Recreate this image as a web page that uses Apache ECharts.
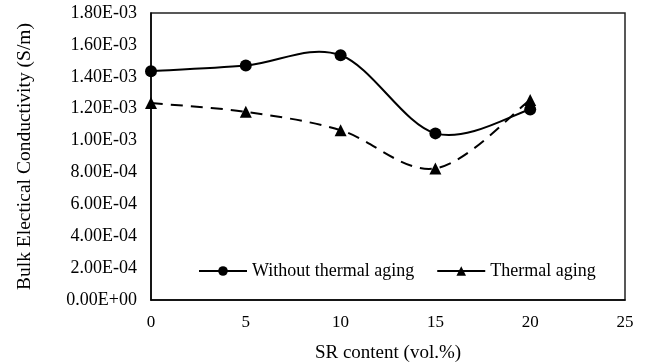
<!DOCTYPE html>
<html>
<head>
<meta charset="utf-8">
<script src="https://cdn.jsdelivr.net/npm/echarts@6/dist/echarts.min.js"></script>
<style>
  html, body { margin: 0; padding: 0; background: #fff; }
  #chart { width: 646px; height: 362px; }
</style>
</head>
<body>
<div id="chart"></div>
<script>
// SR content (vol.%)
const srContent = [0, 5, 10, 15, 20];
// Bulk electrical conductivity (S/m)
const withoutAging = [1.435e-3, 1.47e-3, 1.535e-3, 1.045e-3, 1.195e-3];
const thermalAging = [1.235e-3, 1.18e-3, 1.065e-3, 8.25e-4, 1.255e-3];
const seriesNames = ['Without thermal aging', 'Thermal aging'];

const FONT = '"Liberation Serif", "Times New Roman", serif';

// Scientific label in spreadsheet style, e.g. 1.80E-03
function sci(v) {
  const s = Number(v).toExponential(2);
  const [m, e] = s.split('e');
  const n = parseInt(e, 10);
  const sign = n < 0 ? '-' : '+';
  const d = String(Math.abs(n)).padStart(2, '0');
  return m + 'E' + sign + d;
}

const pairs = (xs, ys) => xs.map((x, i) => [x, ys[i]]);

// Catmull-Rom style smoothed path through pixel points
function smoothPath(pts) {
  let d = 'M' + pts[0][0] + ' ' + pts[0][1];
  for (let i = 0; i < pts.length - 1; i++) {
    const p0 = pts[i - 1] || pts[i];
    const p1 = pts[i];
    const p2 = pts[i + 1];
    const p3 = pts[i + 2] || pts[i + 1];
    const c1x = p1[0] + (p2[0] - p0[0]) / 6;
    const c1y = p1[1] + (p2[1] - p0[1]) / 6;
    const c2x = p2[0] - (p3[0] - p1[0]) / 6;
    const c2y = p2[1] - (p3[1] - p1[1]) / 6;
    d += ' C' + c1x + ' ' + c1y + ' ' + c2x + ' ' + c2y + ' ' + p2[0] + ' ' + p2[1];
  }
  return d;
}

function curveSeries(xs, ys, dash) {
  return {
    type: 'custom',
    silent: true,
    z: 1,
    data: pairs(xs, ys),
    encode: { x: 0, y: 1 },
    renderItem: function (params, api) {
      if (params.dataIndex !== 0) return null;
      const pts = xs.map((x, i) => api.coord([x, ys[i]]));
      return {
        type: 'path',
        shape: { pathData: smoothPath(pts) },
        style: { fill: null, stroke: '#000', lineWidth: 2, lineDash: dash }
      };
    }
  };
}

const legendLine = { width: 2, color: '#000', type: 'solid', opacity: 1 };

const chart = echarts.init(document.getElementById('chart'), null, { renderer: 'canvas' });
chart.setOption({
  animation: false,
  backgroundColor: '#fff',
  textStyle: { fontFamily: FONT, color: '#000' },
  grid: {
    left: 151, top: 13, right: 21, bottom: 62,
    outerBoundsMode: 'none', containLabel: false,
    show: true, borderColor: '#222', borderWidth: 1.5, backgroundColor: 'transparent'
  },
  legend: {
    left: 193, top: 257,
    itemWidth: 48, itemHeight: 12, itemGap: 22,
    textStyle: { fontFamily: FONT, fontSize: 18, color: '#000' },
    data: [
      { name: seriesNames[0], lineStyle: legendLine },
      { name: seriesNames[1], lineStyle: legendLine }
    ]
  },
  xAxis: {
    type: 'value', min: 0, max: 25, interval: 5,
    name: 'SR content (vol.%)', nameLocation: 'middle', nameGap: 44,
    nameTextStyle: { fontFamily: FONT, fontSize: 19, color: '#000' },
    axisLine: { lineStyle: { color: '#000', width: 1.5 } },
    axisTick: { show: false },
    splitLine: { show: false },
    axisLabel: { fontFamily: FONT, fontSize: 17, color: '#000', margin: 14 }
  },
  yAxis: {
    type: 'value', min: 0, max: 0.0018, interval: 0.0002,
    name: 'Bulk Electical Conductivity (S/m)', nameLocation: 'middle', nameGap: 116,
    nameTextStyle: { fontFamily: FONT, fontSize: 19.5, color: '#000' },
    axisLine: { show: true, lineStyle: { color: '#000', width: 1.5 } },
    axisTick: { show: false },
    splitLine: { show: false },
    axisLabel: { fontFamily: FONT, fontSize: 18, color: '#000', margin: 14, formatter: sci }
  },
  series: [
    {
      name: seriesNames[0], type: 'line',
      data: pairs(srContent, withoutAging),
      symbol: 'circle', symbolSize: 12,
      lineStyle: { color: '#000', width: 0, opacity: 0 },
      itemStyle: { color: '#000' },
      z: 3
    },
    {
      name: seriesNames[1], type: 'line',
      data: pairs(srContent, thermalAging),
      symbol: 'triangle', symbolSize: 12,
      lineStyle: { color: '#000', width: 0, opacity: 0 },
      itemStyle: { color: '#000' },
      z: 3
    },
    curveSeries(srContent, withoutAging, null),
    curveSeries(srContent, thermalAging, [12, 8])
  ]
});
</script>
</body>
</html>
